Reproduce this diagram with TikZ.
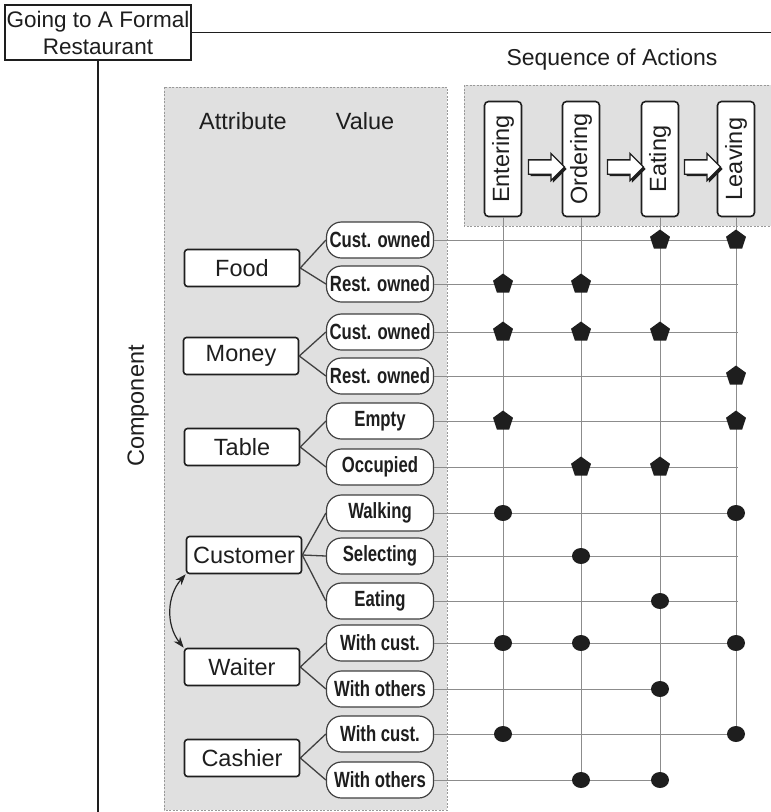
\documentclass[tikz,border=0pt]{standalone}
\usepackage{fontspec}
\setmainfont{Liberation Sans}
\newfontfamily\valfont[FakeStretch=0.76]{Liberation Sans}
\usetikzlibrary{shapes.geometric,shapes.arrows,shadows,arrows.meta}
\definecolor{panelgray}{HTML}{E0E0E0}
\definecolor{gridgray}{HTML}{8C8C8C}
\definecolor{ink}{HTML}{1E1E1E}
\tikzset{
 base/.style={font=\fontsize{23.5}{27}\selectfont, text=ink},
 panel/.style={fill=panelgray, draw=black!40, line width=0.8pt, dash pattern=on 2pt off 1.5pt},
 titlebox/.style={draw=ink, line width=1.6pt, minimum width=186pt, minimum height=55pt, inner sep=0pt, align=center, text=ink, font=\fontsize{22.5}{27}\selectfont},
 actbox/.style={base, draw=ink, fill=white, line width=1.6pt, rounded corners=4pt, minimum width=37pt, minimum height=115pt, inner sep=0pt},
 attrbox/.style={base, draw=ink, fill=white, line width=1.6pt, rounded corners=3pt, minimum width=115pt, minimum height=37pt, inner sep=0pt},
 valbox/.style={draw=black!75, fill=white, line width=1.2pt, rounded corners=15pt, minimum width=107pt, minimum height=36pt, inner sep=0pt, text=ink, font=\valfont\bfseries\fontsize{22}{25}\selectfont},
 blockarrow/.style={single arrow, draw=ink, fill=white, line width=1.3pt, minimum height=36pt, minimum width=0pt, inner xsep=0pt, inner ysep=6.5pt, single arrow head extend=6.5pt, drop shadow={shadow xshift=2pt, shadow yshift=-2pt, opacity=1, fill=ink}},
 gridline/.style={draw=gridgray, line width=0.8pt},
 conn/.style={draw=black!75, line width=1.3pt},
 pent/.style={regular polygon, regular polygon sides=5, minimum size=21pt, inner sep=0pt, fill=ink},
 dotm/.style={ellipse, minimum width=18pt, minimum height=16pt, inner sep=0pt, fill=ink},
}
\begin{document}
\begin{tikzpicture}[x=1pt,y=-1pt]
\useasboundingbox (0,0) rectangle (771,812);
\fill[white] (0,0) rectangle (771,812);
% panels
\path[panel] (164,87) rectangle (447,810);
\path[panel] (464,85) rectangle (773,226);
% title and frame lines
\node[titlebox] (title) at (98,32.5) {Going to A Formal\\Restaurant};
\coordinate (hlend) at (771,32.5);
\coordinate (vlend) at (98,812);
\draw[line width=1.4pt, ink] (title.east) -- (hlend);
\draw[line width=1.4pt, ink] (title.south) -- (vlend);
% labels
\node[base, font=\fontsize{23}{27}\selectfont] (seqlabel) at (612,60) {Sequence of Actions};
\node[base] (hattr) at (243,121) {Attribute};
\node[base] (hval) at (365,121) {Value};
\node[base, rotate=90] (comp) at (138,406) {Component};
% action boxes
\node[actbox] (ent) at (503,159) {\rotatebox{90}{Entering}};
\node[actbox] (ord) at (581,159) {\rotatebox{90}{Ordering}};
\node[actbox] (eat) at (660,159) {\rotatebox{90}{Eating}};
\node[actbox] (lea) at (736,159) {\rotatebox{90}{Leaving}};
\node[blockarrow] (ar1) at (543,167) {};
\node[blockarrow] (ar2) at (622,167) {};
\node[blockarrow] (ar3) at (699,167) {};
% attribute boxes
\node[attrbox] (food) at (242,268) {Food};
\node[attrbox] (money) at (241,356) {Money};
\node[attrbox] (table) at (242,447) {Table};
\node[attrbox] (cust) at (244,555) {Customer};
\node[attrbox] (waiter) at (242,667) {Waiter};
\node[attrbox] (cashier) at (242,758) {Cashier};
% value boxes
\foreach \i/\y/\t in {1/240/Cust. owned, 2/284/Rest. owned, 3/332/Cust. owned, 4/376/Rest. owned, 5/421/Empty, 6/467/Occupied, 7/513/Walking, 8/556/Selecting, 9/601/Eating, 10/643/With cust., 11/689/With others, 12/734/With cust., 13/780/With others}
  \node[valbox] (v\i) at (380,\y) {\t};
% connectors attribute -> value
\foreach \a/\v in {food/1, food/2, money/3, money/4, table/5, table/6, cust/7, cust/8, cust/9, waiter/10, waiter/11, cashier/12, cashier/13}
  \draw[conn] (\a.east) -- (v\v.west);
\draw[black!85, line width=1.2pt, {Stealth[length=11pt,width=8pt]}-{Stealth[length=11pt,width=8pt]}] (cust.south west) to[bend right=40] (waiter.north west);
% grid
\foreach \i/\xe in {1/738, 2/738, 3/738, 4/738, 5/738, 6/738, 7/738, 8/738, 9/738, 10/738, 11/660, 12/738, 13/660}
  \coordinate (e\i) at (\xe, 0 |- v\i);
\foreach \i in {1,...,13}
  \draw[gridline] (v\i.east) -- (e\i);
\coordinate (b1) at (503,734);
\coordinate (b2) at (581,780);
\coordinate (b3) at (660,780);
\coordinate (b4) at (736,734);
\draw[gridline] (ent.south) -- (b1);
\draw[gridline] (ord.south) -- (b2);
\draw[gridline] (eat.south) -- (b3);
\draw[gridline] (lea.south) -- (b4);
% markers
\foreach \r/\c in {1/eat, 1/lea, 2/ent, 2/ord, 3/ent, 3/ord, 3/eat, 4/lea, 5/ent, 5/lea, 6/ord, 6/eat}
  \node[pent] (m\r\c) at (\c |- v\r) {};
\foreach \r/\c in {7/ent, 7/lea, 8/ord, 9/eat, 10/ent, 10/ord, 10/lea, 11/eat, 12/ent, 12/lea, 13/ord, 13/eat}
  \node[dotm] (m\r\c) at (\c |- v\r) {};
\end{tikzpicture}
\end{document}
